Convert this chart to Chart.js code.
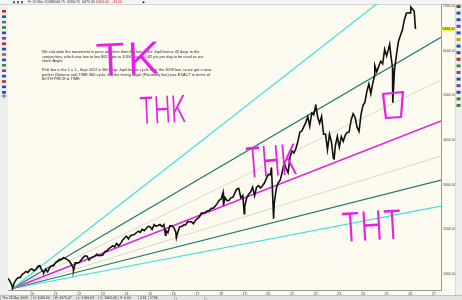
<!DOCTYPE html>
<html>
<head>
<meta charset="utf-8">
<script src="https://cdn.jsdelivr.net/npm/chart.js@4.4.1/dist/chart.umd.min.js"></script>
<style>
html, body { margin: 0; padding: 0; background: #efefef; }
canvas { display: block; }
</style>
</head>
<body>
<canvas id="gannChart" width="462" height="300"></canvas>
<script>
// month-end closes, Jan 2009 .. Feb 2026
const monthlyClose = [
    826, 735, 798, 873, 919, 919, 987, 1021, 1057, 1036, 1096, 1115,
    1074, 1104, 1169, 1187, 1089, 1031, 1102, 1049, 1141, 1183, 1181, 1258,
    1286, 1327, 1326, 1364, 1345, 1321, 1292, 1219, 1131, 1253, 1247, 1258,
    1312, 1366, 1408, 1398, 1310, 1362, 1379, 1407, 1441, 1412, 1416, 1426,
    1498, 1515, 1569, 1598, 1631, 1606, 1686, 1633, 1682, 1757, 1806, 1848,
    1783, 1859, 1872, 1884, 1924, 1960, 1931, 2003, 1972, 2018, 2068, 2059,
    1995, 2105, 2068, 2086, 2107, 2063, 2104, 1972, 1920, 2079, 2080, 2044,
    1940, 1932, 2060, 2065, 2097, 2099, 2174, 2171, 2168, 2126, 2199, 2239,
    2279, 2364, 2363, 2384, 2412, 2423, 2470, 2472, 2519, 2575, 2648, 2674,
    2824, 2714, 2641, 2648, 2705, 2718, 2816, 2902, 2914, 2712, 2760, 2507,
    2704, 2784, 2834, 2946, 2752, 2942, 2980, 2926, 2977, 3038, 3141, 3231,
    3226, 2954, 2585, 2912, 3044, 3100, 3271, 3500, 3363, 3270, 3622, 3756,
    3714, 3811, 3973, 4181, 4204, 4298, 4395, 4523, 4308, 4605, 4567, 4766,
    4516, 4374, 4530, 4132, 4132, 3785, 4130, 3955, 3586, 3872, 4080, 3840,
    4077, 3970, 4109, 4169, 4180, 4450, 4589, 4508, 4288, 4194, 4568, 4770,
    4846, 5096, 5254, 5036, 5278, 5460, 5522, 5648, 5762, 5705, 6032, 5882,
    6041, 5955, 5612, 5569, 5912, 6205, 6339, 6460, 6688, 6840, 6849, 6845,
    6940, 6880
];
const firstMonth = 2009;

// intra-month swing highs / lows seen as spikes on the chart
const swingDates  = [2009.00, 2009.18, 2010.50, 2011.76, 2015.65, 2016.11, 2018.10, 2018.98, 2020.13, 2020.22, 2022.00, 2022.78, 2024.50, 2025.13, 2025.26, 2026.02, 2026.22];
const swingValues = [903,     676,     1022,    1075,    1867,    1810,    2533,    2351,    3386,    2237,    4797,    3577,    5667,    6144,    4835,    6980,    6484];

// gann fan from the 2009 low
const fanOrigin = [2009.18, 676];
const fanEndYear = 2027.3;
const fanEndValues = [8170, 6300, 5343, 4425, 3642, 3104, 2522];
const fanNames = ['2x1', '3x2', '5x4', '1x1', '4x5', '2x3', '1x2'];
const fanColors = ['#3fe0e0', '#1f7a72', '#c9d6bf', '#e020e0', '#c9d6bf', '#1f7a72', '#3fe0e0'];
const fanWidths = [1.2, 1.2, 0.8, 1.4, 0.8, 1.2, 1.2];

const tickYears = [2010, 2011, 2012, 2013, 2014, 2015, 2016, 2017, 2018, 2019, 2020, 2021, 2022, 2023, 2024, 2025, 2026, 2027];
const priceTicks = [1000, 2000, 3000, 4000, 5000, 6000, 7000];

const noteLines = [
    'We calculate the movement in price and time from the low to the Jup/Uranus 45 degs to the',
    'conjunction, which was low to low 865.3 pts in 1030 days = 0.82 pts per day to be used as our',
    'Gann Angle',
    '',
    'Pink bar is the 1 x 1 - Sept 2022 = 360 degs Jup/Uranus cycle from the 2009 low, so we got a near',
    'perfect (Saturns out) TIME 360 cycle, but the timing angle (Planetary line) was EXACT in terms of',
    'BOTH PRICE & TIME'
];

// hand-written marks: [text, year, baseline price, size, stretchX, angle]
const scribbles = [
    ['TK', 2012.67, 5433, 44, 1.15, -0.04],
    ['THK', 2014.57, 4358, 37, 0.62, -0.05],
    ['THK', 2019.09, 3149, 42, 0.6, -0.08],
    ['THT', 2023.11, 1716, 40, 0.76, -0.06]
];
const boxCorners = [[2024.85, 5030], [2025.69, 5075], [2025.61, 4515], [2024.97, 4493]];

// build the price series
const pricePoints = monthlyClose.map((v, i) => ({ x: firstMonth + (i + 1) / 12, y: v }));
swingDates.forEach((d, i) => pricePoints.push({ x: d, y: swingValues[i] }));
pricePoints.sort((a, b) => a.x - b.x);

const fanSets = fanEndValues.map((end, i) => ({
    label: fanNames[i],
    data: [{ x: fanOrigin[0], y: fanOrigin[1] }, { x: fanEndYear, y: end }],
    borderColor: fanColors[i],
    borderWidth: fanWidths[i],
    pointRadius: 0,
    order: 2
}));

const cream = '#fdfaef';
const magenta = '#e61ee6';

const chromePlugin = {
    id: 'chrome',
    beforeDraw(chart) {
        const { ctx, chartArea: a, width, height } = chart;
        ctx.save();
        ctx.fillStyle = '#efefef';
        ctx.fillRect(0, 0, width, height);
        ctx.fillStyle = cream;
        ctx.fillRect(a.left, a.top, 455 - a.left, 295 - a.top);

        // top info strip
        ctx.fillStyle = '#f4f4f4';
        ctx.fillRect(0, 0, width, 4);
        ctx.fillStyle = '#bbb';
        ctx.fillRect(0, 4, width, 0.6);
        ctx.font = '3.6px "Liberation Sans"';
        ctx.textBaseline = 'middle';
        const strip = [['Fr 20 Mar 2026', 28, '#333'], ['6544.75', 52, '#333'], ['6584.75', 67, '#333'],
                       ['6475.30', 82, '#333'], ['6484.00', 96, '#d0302a'], ['-33.00', 112, '#d0302a']];
        strip.forEach(s => { ctx.fillStyle = s[2]; ctx.fillText(s[0], s[1], 2.2); });
        ctx.fillStyle = '#666';
        ctx.fillRect(13, 1, 2, 2.4);
        ctx.fillRect(17, 1, 2, 2.4);
        ctx.fillRect(21, 1, 2, 2.4);
        ctx.fillStyle = '#222';
        ctx.beginPath(); ctx.arc(143.5, 2.2, 1, 0, Math.PI * 2); ctx.fill();

        // left tool column
        const leftIcons = ['#c03030', '#2050c0', '#6a6a6a', '#2a8a3a', '#2050c0', '#8040a0', '#c03030', '#2050c0',
                           '#c06020', '#2050c0', '#3a8a3a', '#8040a0', '#2050c0', '#c03030', '#2050c0', '#2050c0'];
        leftIcons.forEach((c, i) => {
            ctx.fillStyle = c;
            ctx.fillRect(2, 10 + i * 5.4, 4, 2.6);
        });
        ctx.strokeStyle = '#2050c0';
        ctx.lineWidth = 0.8;
        ctx.beginPath();
        ctx.moveTo(1.5, 96); ctx.lineTo(6.5, 96);
        ctx.moveTo(4, 93.5); ctx.lineTo(4, 98.5);
        ctx.stroke();

        // right tool column
        const rightIcons = ['#555', '#2050c0', '#2050c0', '#8040a0', '#2050c0', '#c0a020', '#2050c0', '#2050c0',
                            '#c03030', '#3a8a3a', '#8040a0', '#2050c0', '#8040a0', '#2050c0', '#3a8a3a', '#3a8a3a'];
        rightIcons.forEach((c, i) => {
            ctx.fillStyle = c;
            ctx.fillRect(456.5, 5 + i * 6.6, 4, 3);
        });
        ctx.fillStyle = '#c8c8c8';
        ctx.fillRect(455, 4, 0.6, 291);

        // status bar
        ctx.fillStyle = '#e2e2e2';
        ctx.fillRect(0, 295, width, 5);
        ctx.fillStyle = '#aaa';
        ctx.fillRect(0, 295, width, 0.6);
        const cells = [['Thu 26 Mar 2009', 2], ['O: 1066.00', 33], ['H: 1075.47', 55], ['L: 1066.03', 78],
                       ['C: 1063.48', 100], ['V: 0.00', 120], ['2.61', 140], ['1736', 150], ['-', 176], ['-', 206]];
        ctx.font = '3.4px "Liberation Sans"';
        cells.forEach(c => {
            ctx.fillStyle = '#333';
            ctx.fillText(c[0], c[1], 297.8);
            ctx.fillStyle = '#999';
            ctx.fillRect(c[1] - 2, 295.6, 0.5, 4.4);
        });
        ctx.restore();
    },
    afterDraw(chart) {
        const { ctx } = chart;
        const ys = chart.scales.y;
        // current price label on the axis
        const last = swingValues[swingValues.length - 1];
        const py = ys.getPixelForValue(last);
        ctx.save();
        ctx.fillStyle = '#f5f53a';
        ctx.fillRect(441.5, py - 2, 12.5, 4);
        ctx.fillStyle = '#222';
        ctx.font = '3.5px "Liberation Sans"';
        ctx.textBaseline = 'middle';
        ctx.fillText(last.toFixed(2), 442.5, py + 0.2);
        ctx.restore();
    }
};

const notesPlugin = {
    id: 'notes',
    afterDatasetsDraw(chart) {
        const { ctx } = chart;
        const xs = chart.scales.x, ys = chart.scales.y;
        ctx.save();
        // text block
        ctx.fillStyle = '#2a2a2a';
        ctx.font = '3.9px "Liberation Sans"';
        ctx.textBaseline = 'middle';
        let y = 52;
        noteLines.forEach(line => {
            if (line) ctx.fillText(line, 42, y);
            y += 4.5;
        });

        // scribbled letters
        ctx.fillStyle = magenta;
        ctx.textBaseline = 'alphabetic';
        scribbles.forEach(s => {
            const px = xs.getPixelForValue(s[1]);
            const py = ys.getPixelForValue(s[2]);
            ctx.save();
            ctx.translate(px, py);
            ctx.rotate(s[5]);
            ctx.scale(s[4], 1);
            ctx.font = '300 ' + s[3] + 'px Inter';
            ctx.fillText(s[0], 0, 0);
            ctx.restore();
        });

        // box round the 2025 low
        ctx.strokeStyle = magenta;
        ctx.lineWidth = 2.2;
        ctx.lineJoin = 'round';
        ctx.beginPath();
        boxCorners.forEach((c, i) => {
            const px = xs.getPixelForValue(c[0]);
            const py = ys.getPixelForValue(c[1]);
            if (i === 0) ctx.moveTo(px, py); else ctx.lineTo(px, py);
        });
        ctx.closePath();
        ctx.stroke();
        ctx.restore();
    }
};

const ctx = document.getElementById('gannChart').getContext('2d');
const gannChart = new Chart(ctx, {
    type: 'line',
    data: {
        datasets: [{
            label: 'S&P 500',
            data: pricePoints,
            borderColor: '#111111',
            borderWidth: 1.6,
            pointRadius: 0,
            tension: 0,
            order: 0
        }, ...fanSets]
    },
    options: {
        responsive: false,
        animation: false,
        layout: {
            padding: { left: 8, right: 7, top: 4, bottom: 5 }
        },
        plugins: {
            legend: { display: false },
            tooltip: { enabled: false }
        },
        scales: {
            x: {
                type: 'linear',
                min: 2008.99,
                max: 2027.3,
                afterBuildTicks: s => { s.ticks = tickYears.map(v => ({ value: v })); },
                afterFit: s => { s.height = 5; },
                ticks: {
                    callback: v => String(v).slice(2),
                    font: { size: 3.6, family: 'Liberation Sans' },
                    color: '#444',
                    padding: 0,
                    maxRotation: 0,
                    autoSkip: false
                },
                grid: { drawOnChartArea: false, tickLength: 1.5, color: '#888' },
                border: { color: '#999' }
            },
            y: {
                type: 'linear',
                position: 'right',
                min: 642,
                max: 7045,
                afterBuildTicks: s => { s.ticks = priceTicks.map(v => ({ value: v })); },
                afterFit: s => { s.width = 14; },
                ticks: {
                    callback: v => v.toFixed(2),
                    font: { size: 3.5, family: 'Liberation Sans' },
                    color: '#444',
                    padding: 1
                },
                grid: { drawOnChartArea: false, tickLength: 1, color: '#888' },
                border: { color: '#999' }
            }
        }
    },
    plugins: [chromePlugin, notesPlugin]
});
</script>
</body>
</html>
